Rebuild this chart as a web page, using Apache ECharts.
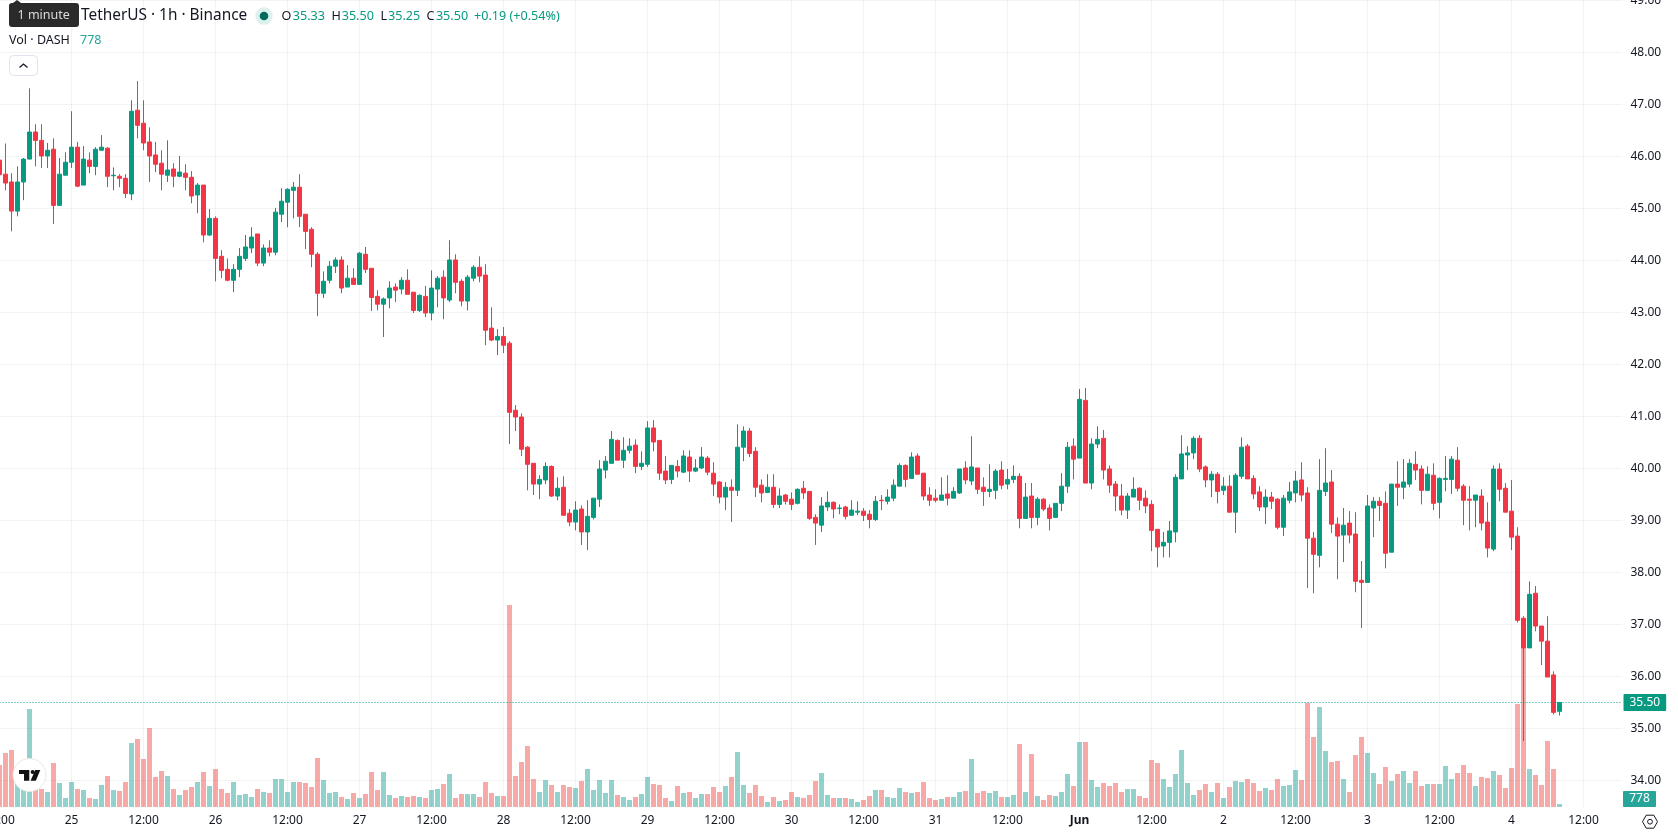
<!DOCTYPE html>
<html>
<head>
<meta charset="utf-8">
<title>DASH/USDT 1h</title>
<style>html,body{margin:0;padding:0;background:#fff;overflow:hidden}#chart{width:1678px;height:835px}</style>
<script src="https://cdn.jsdelivr.net/npm/echarts@6/dist/echarts.min.js"></script>
</head>
<body>
<div id="chart"></div>
<script>
// Hourly candles, oldest first; the first candle is 24 May 12:00.
const opens = [
45.93,45.66,45.51,44.95,45.51,45.95,46.47,46.31,46.01,46.14,
45.06,45.64,45.89,46.18,45.45,45.93,45.81,46.12,46.16,45.63,
45.62,45.58,45.28,46.89,46.64,46.28,46.03,45.87,45.64,45.76,
45.62,45.68,45.60,45.26,45.45,44.49,44.81,44.08,43.83,43.62,
43.83,44.04,44.24,44.51,43.95,44.24,44.16,44.89,45.12,45.35,
45.41,44.89,44.60,44.12,43.37,43.62,43.89,44.01,43.49,43.66,
43.54,44.12,43.85,43.31,43.16,43.28,43.49,43.45,43.62,43.39,
43.04,43.31,42.99,43.45,43.68,43.24,44.01,43.60,43.22,43.66,
43.87,43.72,42.70,42.47,42.54,42.41,41.12,40.99,40.41,40.10,
39.70,39.78,40.04,39.47,39.64,39.14,38.97,39.22,38.78,39.06,
39.41,39.97,40.10,40.54,40.16,40.35,40.45,40.04,40.08,40.78,
40.54,39.95,39.79,40.04,39.93,40.22,39.95,40.01,40.20,39.91,
39.74,39.45,39.64,39.58,40.41,40.72,40.33,39.68,39.54,39.64,
39.31,39.49,39.41,39.33,39.62,39.56,39.06,38.91,39.26,39.35,
39.23,39.26,39.10,39.16,39.18,39.12,39.02,39.39,39.37,39.43,
39.66,40.06,39.81,40.24,39.91,39.49,39.43,39.39,39.51,39.43,
39.53,40.01,39.76,40.01,39.64,39.56,39.58,39.97,39.70,39.79,
39.85,39.04,39.47,39.06,39.41,39.24,39.06,39.33,39.66,40.43,
40.20,41.31,39.72,40.47,40.58,39.99,39.70,39.47,39.20,39.45,
39.62,39.43,39.31,38.83,38.51,38.58,38.78,39.80,40.26,40.30,
40.58,40.03,39.78,39.89,39.58,39.66,39.16,39.85,40.43,39.81,
39.55,39.26,39.45,39.41,38.87,39.39,39.53,39.78,39.53,38.66,
38.33,39.56,39.74,38.93,38.72,38.95,38.74,37.85,37.81,39.24,
39.37,39.33,38.39,39.70,39.64,39.70,40.08,39.99,39.58,39.87,
39.35,39.79,39.79,40.16,39.66,39.41,39.39,39.47,38.97,38.45,
39.99,39.62,39.18,38.70,37.12,36.55,37.60,36.97,36.68,36.03,35.33];
const closes = [
45.65,45.49,44.95,45.51,45.95,46.47,46.31,46.01,46.12,45.06,
45.66,45.89,46.18,45.43,45.95,45.81,46.14,46.18,45.62,45.64,
45.58,45.29,46.87,46.60,46.26,46.01,45.85,45.66,45.74,45.62,
45.70,45.60,45.24,45.45,44.49,44.81,44.04,43.81,43.62,43.83,
44.08,44.26,44.45,43.95,44.24,44.16,44.93,45.14,45.37,45.41,
44.85,44.56,44.12,43.37,43.60,43.89,44.01,43.47,43.66,43.54,
44.14,43.83,43.29,43.16,43.26,43.47,43.43,43.62,43.35,43.04,
43.33,42.99,43.47,43.66,43.28,44.01,43.58,43.22,43.68,43.87,
43.70,42.66,42.47,42.54,42.37,41.08,40.99,40.37,40.08,39.70,
39.79,40.04,39.47,39.62,39.10,38.97,39.20,38.78,39.08,39.43,
39.99,40.14,40.56,40.16,40.35,40.43,40.04,40.10,40.78,40.51,
39.91,39.78,40.06,39.95,40.24,39.95,40.01,40.22,39.93,39.70,
39.45,39.64,39.58,40.41,40.72,40.29,39.64,39.53,39.64,39.31,
39.47,39.37,39.31,39.60,39.53,39.04,38.95,39.28,39.35,39.22,
39.24,39.08,39.20,39.18,39.10,39.02,39.37,39.38,39.45,39.68,
40.06,39.79,40.22,39.89,39.47,39.39,39.39,39.49,39.43,39.56,
39.99,39.78,40.03,39.60,39.56,39.60,39.95,39.68,39.79,39.85,
39.04,39.45,39.06,39.41,39.22,39.04,39.33,39.66,40.41,40.18,
41.33,39.72,40.47,40.56,39.97,39.68,39.47,39.20,39.47,39.60,
39.39,39.28,38.81,38.49,38.58,38.80,39.83,40.28,40.30,40.58,
39.99,39.78,39.89,39.56,39.66,39.16,39.87,40.41,39.80,39.51,
39.26,39.45,39.37,38.87,39.43,39.55,39.76,39.49,38.66,38.35,
39.58,39.72,38.93,38.70,38.91,38.72,37.83,37.81,39.28,39.37,
39.29,38.37,39.70,39.64,39.74,40.10,39.97,39.58,39.89,39.33,
39.81,39.81,40.18,39.62,39.39,39.39,39.49,38.95,38.47,39.99,
39.60,39.16,38.68,37.08,36.55,37.58,36.97,36.68,35.99,35.31,35.50];
const highs = [
46.03,46.25,45.68,45.81,45.97,47.31,46.62,46.62,46.26,46.35,
45.97,46.08,46.87,46.28,46.20,46.08,46.18,46.41,46.18,45.79,
45.66,45.66,47.08,47.45,47.08,46.56,46.28,46.12,46.31,45.87,
46.01,45.85,45.72,45.49,45.45,44.99,44.85,44.20,44.04,43.93,
44.24,44.49,44.64,44.51,44.31,44.39,45.01,45.39,45.39,45.51,
45.66,44.89,44.64,44.16,43.79,43.99,44.06,44.08,43.91,43.85,
44.16,44.26,43.85,43.43,43.29,43.60,43.56,43.68,43.83,43.39,
43.35,43.51,43.81,43.70,43.81,44.39,44.12,43.64,43.72,43.91,
44.08,43.93,43.10,42.68,42.72,42.45,41.22,41.06,40.43,40.10,
39.87,40.12,40.06,39.83,39.85,39.22,39.37,39.29,39.39,39.43,
40.16,40.24,40.72,40.56,40.60,40.58,40.56,40.33,40.91,40.93,
40.54,40.24,40.06,40.16,40.35,40.35,40.18,40.41,40.24,40.12,
39.76,39.74,39.79,40.85,40.81,40.78,40.41,39.79,39.89,39.89,
39.62,39.51,39.54,39.62,39.76,39.56,39.12,39.45,39.56,39.37,
39.31,39.28,39.39,39.37,39.24,39.20,39.47,39.49,39.60,39.79,
40.10,40.08,40.31,40.29,39.91,39.64,39.60,39.83,39.87,39.64,
39.99,40.14,40.62,40.01,39.83,40.08,39.99,40.14,39.99,40.06,
39.91,39.72,39.72,39.45,39.43,39.31,39.33,39.91,40.51,40.58,
41.53,41.55,40.58,40.81,40.74,40.06,39.76,39.70,39.53,39.83,
39.64,39.58,39.39,38.83,38.78,38.99,39.89,40.64,40.43,40.62,
40.64,40.06,39.95,39.93,39.83,39.87,39.91,40.60,40.47,39.87,
39.66,39.60,39.55,39.43,39.49,39.74,39.95,40.12,39.64,38.78,
40.18,40.39,39.97,39.06,39.24,39.18,39.16,38.22,39.49,39.45,
39.45,39.56,39.70,40.14,40.18,40.18,40.33,40.06,40.04,40.10,
39.83,40.24,40.24,40.41,39.70,39.66,39.49,39.60,39.35,40.06,
40.10,39.72,39.78,38.87,37.16,37.83,37.74,36.97,37.16,36.10,35.50];
const lows = [
45.61,45.35,44.56,44.85,45.16,45.95,45.81,45.78,45.78,44.70,
45.06,45.64,45.78,45.41,45.45,45.68,45.64,46.12,45.41,45.35,
45.41,45.20,45.16,46.35,46.12,45.51,45.70,45.35,45.51,45.41,
45.60,45.35,45.10,44.91,44.35,44.47,43.60,43.66,43.60,43.39,
43.68,43.99,44.14,43.89,43.89,44.08,44.10,44.74,44.64,44.81,
44.64,44.22,43.87,42.93,43.28,43.56,43.76,43.37,43.49,43.53,
43.54,43.76,43.03,43.04,42.53,43.08,43.20,43.35,43.35,42.99,
43.01,42.91,42.85,43.10,42.87,43.20,43.37,43.12,43.04,43.60,
43.58,42.37,42.45,42.18,42.22,40.47,40.72,40.24,39.58,39.49,
39.41,39.70,39.45,39.39,39.10,38.89,38.81,38.53,38.43,39.02,
39.26,39.81,40.10,40.16,40.01,40.29,39.91,39.97,40.03,40.33,
39.78,39.70,39.70,39.83,39.91,39.74,39.93,39.99,39.87,39.47,
39.33,39.20,38.97,39.47,40.14,40.22,39.45,39.35,39.53,39.24,
39.24,39.31,39.20,39.31,39.41,39.01,38.53,38.78,39.18,39.04,
39.12,39.02,39.10,39.10,38.99,38.85,38.99,39.20,39.31,39.37,
39.66,39.64,39.81,39.89,39.39,39.28,39.35,39.39,39.29,39.43,
39.51,39.70,39.68,39.51,39.28,39.45,39.41,39.60,39.60,39.72,
38.85,39.04,38.85,38.91,39.18,38.81,39.06,39.18,39.53,39.79,
40.20,39.72,39.60,40.39,39.79,39.53,39.18,39.10,39.03,39.45,
39.20,39.14,38.41,38.10,38.29,38.29,38.58,39.80,39.97,40.18,
39.93,39.64,39.45,39.33,39.49,39.16,38.76,39.80,39.80,39.41,
39.18,38.93,39.22,38.83,38.70,39.33,39.35,39.37,37.70,37.60,
38.10,39.47,38.76,37.87,38.20,38.56,37.62,36.93,37.81,38.68,
38.99,38.08,38.39,39.28,39.41,39.64,39.78,39.31,39.58,39.20,
39.04,39.56,39.51,39.56,38.91,38.81,38.87,38.81,38.29,38.41,
39.37,39.16,38.43,37.04,34.76,36.55,36.87,36.22,35.99,35.27,35.25];
const volumes = [
10920,14040,14820,9620,7020,25480,5200,4680,3900,11440,
6240,2340,6500,4680,4420,2340,2080,5720,8060,4420,
4160,6500,16640,17680,12480,20540,7800,9360,8060,4680,
3120,4420,5200,6500,9100,5460,9880,4680,3640,6500,
3120,3380,2600,4680,3900,3640,7280,7280,3900,6500,
6500,6240,5200,12740,7020,3640,3900,2600,2080,3640,
2340,3380,9100,4420,9100,3120,2340,2860,2600,2860,
2600,2340,4420,4680,5980,8580,2340,3380,3380,3380,
2600,6500,3640,2860,2860,52520,8060,11700,15860,7280,
3900,7020,5720,3900,5720,5200,4940,6760,9880,4420,
7020,3640,7020,3120,2600,1820,2600,3380,7800,5980,
5720,2340,1560,5460,3640,3900,2340,3380,3380,5200,
3900,5460,7800,14300,5720,3640,5720,2860,1300,2600,
1560,1820,3900,2600,2340,3120,6760,8840,3120,2340,
2340,2340,2080,1300,1820,2860,4420,4420,2600,2340,
4940,3900,3640,3900,6500,2340,1820,2080,2600,2600,
3900,4160,12480,3640,4160,3640,4160,2600,2600,3120,
16380,3900,13780,2860,1820,3120,2860,3900,8580,5460,
16900,16900,7020,5200,6240,5460,6240,3900,4680,4680,
2860,2340,12220,11440,7280,5200,8580,14820,6240,3120,
4420,5980,3900,6240,2340,5200,6760,6500,7280,6240,
4160,4940,4420,7280,5460,5720,9620,7020,27040,18200,
26000,14560,11700,11960,7280,3900,13520,18200,14040,8840,
5980,10400,6760,8580,9360,6240,9360,5460,5980,5980,
5980,10660,7280,8840,10920,8840,5460,7800,7540,9360,
8320,4940,10140,26780,41860,9880,8320,5720,17160,9880,778];
const priceTicks = [34,35,36,37,38,39,40,41,42,43,44,45,46,47,48,49];
const dayLabels = ['25','26','27','28','29','30','31','Jun','2','3','4'];
const halfDayLabel = '12:00';
const lastPrice = closes[closes.length - 1];
const lastVolume = volumes[volumes.length - 1];
const legendValues = [['O','35.33'],['H','35.50'],['L','35.25'],['C','35.50']];
const legendChange = '+0.19 (+0.54%)';
const futureSlots = 10;

const UP = '#089981', DOWN = '#F23645', GRID = 'rgba(42,46,57,0.06)', TEXT = '#131722';
const FONT = '"Noto Sans", sans-serif';

// One category per hour, with empty room after the last candle.
const hourSlots = Array.from({length: opens.length + futureSlots}, (_, i) => i);
const labelFor = i => {
  if (i % 24 === 0) return halfDayLabel;
  const day = dayLabels[(i - 12) / 24];
  return day === 'Jun' ? '{bold|Jun}' : day;
};
const onGrid = i => i % 12 === 0;

const chart = echarts.init(document.getElementById('chart'), null, {renderer: 'canvas'});
const text = (x, y, str, fill, size, extra) => ({
  type: 'text', x, y, silent: true, z: 100,
  style: Object.assign({text: str, fill, font: `${size}px ${FONT}`, verticalAlign: 'middle'}, extra || {})
});

const legendItems = [];
legendValues.forEach((pair, k) => {
  const base = [281.5, 331.5, 380.5, 426.5][k];
  const valueX = [292.8, 341.7, 388, 435.9][k];
  legendItems.push(text(base, 16.5, pair[0], TEXT, 12.6));
  legendItems.push(text(valueX, 16.5, pair[1], UP, 12.6));
});

chart.setOption({
  animation: false,
  backgroundColor: '#fff',
  grid: {left: -3.5, top: 0, width: 1626, height: 807, containLabel: false, outerBoundsMode: 'none'},
  xAxis: {
    type: 'category',
    data: hourSlots,
    boundaryGap: true,
    axisLine: {show: false},
    axisTick: {show: false},
    axisLabel: {
      interval: onGrid,
      formatter: (v, i) => labelFor(Number(v)),
      hideOverlap: false,
      margin: 8,
      color: TEXT,
      fontFamily: 'Noto Sans',
      fontSize: 12,
      rich: {bold: {fontWeight: 'bold', fontFamily: 'Noto Sans', fontSize: 12, color: TEXT}}
    },
    splitLine: {show: true, interval: onGrid, alignWithLabel: true, lineStyle: {color: GRID, width: 1}}
  },
  yAxis: [
    {
      type: 'value',
      position: 'right',
      min: 33.4904,
      max: 49.0096,
      axisLine: {show: false},
      axisTick: {show: false, customValues: priceTicks},
      axisLabel: {
        customValues: priceTicks,
        formatter: v => v.toFixed(2),
        color: TEXT,
        fontFamily: 'Noto Sans',
        fontSize: 12,
        margin: 8,
        align: 'left',
        hideOverlap: false
      },
      splitLine: {show: true, lineStyle: {color: GRID, width: 1}}
    },
    {type: 'value', min: 0, max: 209820, show: false, splitLine: {show: false}}
  ],
  series: [
    {
      name: 'Vol',
      type: 'bar',
      yAxisIndex: 1,
      barWidth: 5,
      z: 1,
      data: volumes,
      itemStyle: {
        color: p => closes[p.dataIndex] >= opens[p.dataIndex] ? 'rgba(38,166,154,0.5)' : 'rgba(239,83,80,0.5)'
      }
    },
    {
      name: 'DASH/USDT',
      type: 'candlestick',
      z: 3,
      barWidth: 4,
      data: opens.map((o, i) => [o, closes[i], lows[i], highs[i]]),
      itemStyle: {color: UP, color0: DOWN, borderColor: UP, borderColor0: DOWN, borderWidth: 1},
      markLine: {
        symbol: 'none',
        silent: true,
        animation: false,
        data: [{yAxis: lastPrice}],
        lineStyle: {type: [1, 2], color: '#00a58a', width: 1},
        label: {
          show: true,
          position: 'end',
          distance: 1,
          formatter: lastPrice.toFixed(2),
          color: '#fff',
          backgroundColor: UP,
          fontFamily: 'Noto Sans',
          fontSize: 12,
          lineHeight: 13,
          padding: [2, 6, 2, 6],
          borderRadius: 1
        }
      }
    }
  ],
  graphic: [
    // Symbol title and OHLC line
    text(81, 16, 'TetherUS · 1h · Binance', TEXT, 15.4),
    {type: 'circle', silent: true, z: 100, shape: {cx: 264, cy: 16, r: 8.7}, style: {fill: 'rgba(8,153,129,0.14)'}},
    {type: 'circle', silent: true, z: 101, shape: {cx: 264, cy: 16, r: 4.3}, style: {fill: '#066a5a'}},
    ...legendItems,
    text(474, 16.5, legendChange, UP, 12.6),
    // Volume legend
    text(9, 40.5, 'Vol · DASH', TEXT, 12.5),
    text(80, 40.5, String(lastVolume), '#26a69a', 12.5),
    // Collapse button
    {type: 'rect', silent: true, z: 100, shape: {x: 9.5, y: 55.5, width: 28, height: 20, r: 4}, style: {fill: '#fff', stroke: '#e0e3eb', lineWidth: 1}},
    {type: 'polyline', silent: true, z: 101, shape: {points: [[19.5, 67.5], [23.5, 64], [27.5, 67.5]]}, style: {fill: 'none', stroke: TEXT, lineWidth: 1.3}},
    // Hover hint
    {type: 'polygon', silent: true, z: 110, shape: {points: [[13, 3], [17, 0], [21, 3]]}, style: {fill: '#2a2a2a'}},
    {type: 'rect', silent: true, z: 110, shape: {x: 9, y: 3, width: 70, height: 24, r: 3}, style: {fill: '#2a2a2a'}},
    {type: 'text', silent: true, z: 111, x: 17.5, y: 15.5, style: {text: '1 minute', fill: '#dcdcdc', font: `12.5px ${FONT}`, verticalAlign: 'middle'}},
    // Logo badge
    {type: 'circle', silent: true, z: 100, shape: {cx: 29.5, cy: 775, r: 16.5}, style: {fill: '#fff', stroke: '#e8e8e8', lineWidth: 1}},
    {type: 'polygon', silent: true, z: 101, shape: {points: [[19, 770], [29.3, 770], [29.3, 780.7], [24, 780.7], [24, 774], [19, 774]]}, style: {fill: '#111'}},
    {type: 'circle', silent: true, z: 101, shape: {cx: 32.6, cy: 772, r: 2}, style: {fill: '#111'}},
    {type: 'polygon', silent: true, z: 101, shape: {points: [[40.3, 770], [35.8, 780.7], [30.6, 780.7], [35.2, 770]]}, style: {fill: '#111'}},
    // Volume value tag on the axis
    {type: 'rect', silent: true, z: 100, shape: {x: 1623, y: 791, width: 33, height: 16, r: 1}, style: {fill: '#26a69a'}},
    {type: 'text', silent: true, z: 101, x: 1639.5, y: 799, style: {text: String(lastVolume), fill: '#fff', font: `12px ${FONT}`, align: 'center', verticalAlign: 'middle'}},
    // Settings glyph
    {type: 'polygon', silent: true, z: 100, shape: {points: [[1642.5, 821.7], [1646.2, 815.2], [1653.8, 815.2], [1657.5, 821.7], [1653.8, 828.2], [1646.2, 828.2]]}, style: {fill: 'none', stroke: TEXT, lineWidth: 1}},
    {type: 'circle', silent: true, z: 100, shape: {cx: 1650, cy: 821.7, r: 2.4}, style: {fill: 'none', stroke: TEXT, lineWidth: 1}}
  ]
});
</script>
</body>
</html>
